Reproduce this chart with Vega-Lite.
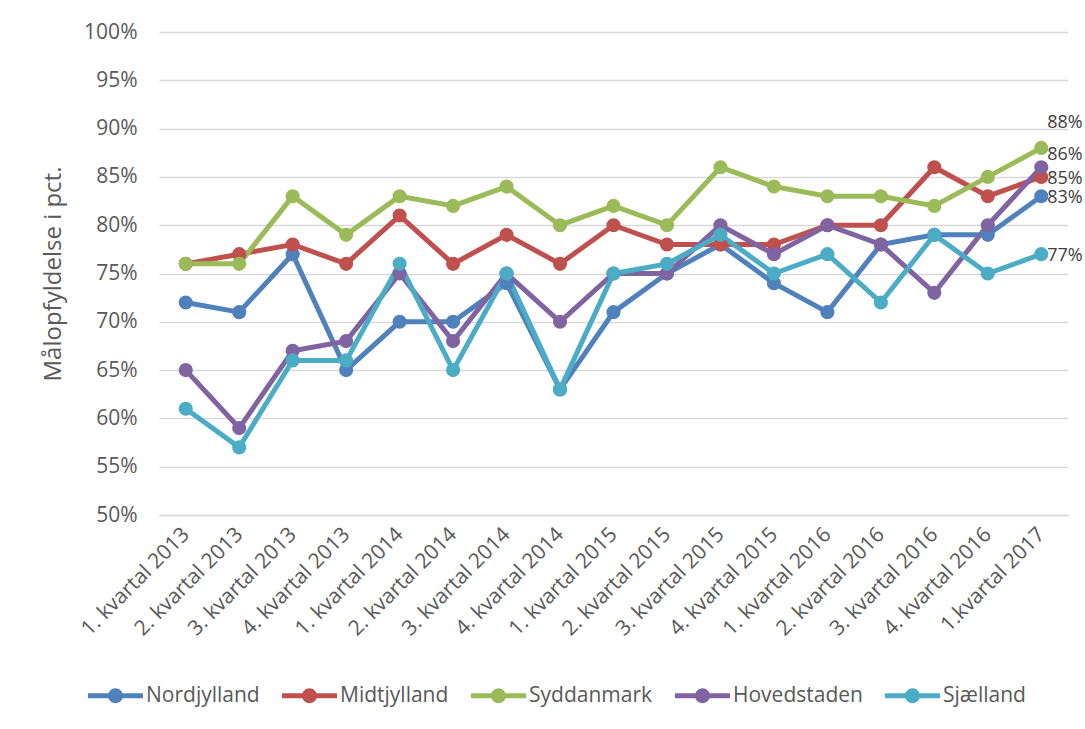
{
  "$schema": "https://vega.github.io/schema/vega-lite/v6.json",
  "autosize": "none",
  "width": 909,
  "height": 483,
  "padding": {"left": 159, "top": 32, "right": 17, "bottom": 214},
  "background": "white",
  "config": {
    "font": "Open Sans",
    "view": {"stroke": null}
  },
  "data": {
    "values": [
      {"kvartal": "1. kvartal 2013", "region": "Nordjylland", "pct": 0.72},
      {"kvartal": "2. kvartal 2013", "region": "Nordjylland", "pct": 0.71},
      {"kvartal": "3. kvartal 2013", "region": "Nordjylland", "pct": 0.77},
      {"kvartal": "4. kvartal 2013", "region": "Nordjylland", "pct": 0.65},
      {"kvartal": "1. kvartal 2014", "region": "Nordjylland", "pct": 0.70},
      {"kvartal": "2. kvartal 2014", "region": "Nordjylland", "pct": 0.70},
      {"kvartal": "3. kvartal 2014", "region": "Nordjylland", "pct": 0.74},
      {"kvartal": "4. kvartal 2014", "region": "Nordjylland", "pct": 0.63},
      {"kvartal": "1. kvartal 2015", "region": "Nordjylland", "pct": 0.71},
      {"kvartal": "2. kvartal 2015", "region": "Nordjylland", "pct": 0.75},
      {"kvartal": "3. kvartal 2015", "region": "Nordjylland", "pct": 0.78},
      {"kvartal": "4. kvartal 2015", "region": "Nordjylland", "pct": 0.74},
      {"kvartal": "1. kvartal 2016", "region": "Nordjylland", "pct": 0.71},
      {"kvartal": "2. kvartal 2016", "region": "Nordjylland", "pct": 0.78},
      {"kvartal": "3. kvartal 2016", "region": "Nordjylland", "pct": 0.79},
      {"kvartal": "4. kvartal 2016", "region": "Nordjylland", "pct": 0.79},
      {"kvartal": "1.kvartal 2017", "region": "Nordjylland", "pct": 0.83},
      {"kvartal": "1. kvartal 2013", "region": "Midtjylland", "pct": 0.76},
      {"kvartal": "2. kvartal 2013", "region": "Midtjylland", "pct": 0.77},
      {"kvartal": "3. kvartal 2013", "region": "Midtjylland", "pct": 0.78},
      {"kvartal": "4. kvartal 2013", "region": "Midtjylland", "pct": 0.76},
      {"kvartal": "1. kvartal 2014", "region": "Midtjylland", "pct": 0.81},
      {"kvartal": "2. kvartal 2014", "region": "Midtjylland", "pct": 0.76},
      {"kvartal": "3. kvartal 2014", "region": "Midtjylland", "pct": 0.79},
      {"kvartal": "4. kvartal 2014", "region": "Midtjylland", "pct": 0.76},
      {"kvartal": "1. kvartal 2015", "region": "Midtjylland", "pct": 0.80},
      {"kvartal": "2. kvartal 2015", "region": "Midtjylland", "pct": 0.78},
      {"kvartal": "3. kvartal 2015", "region": "Midtjylland", "pct": 0.78},
      {"kvartal": "4. kvartal 2015", "region": "Midtjylland", "pct": 0.78},
      {"kvartal": "1. kvartal 2016", "region": "Midtjylland", "pct": 0.80},
      {"kvartal": "2. kvartal 2016", "region": "Midtjylland", "pct": 0.80},
      {"kvartal": "3. kvartal 2016", "region": "Midtjylland", "pct": 0.86},
      {"kvartal": "4. kvartal 2016", "region": "Midtjylland", "pct": 0.83},
      {"kvartal": "1.kvartal 2017", "region": "Midtjylland", "pct": 0.85},
      {"kvartal": "1. kvartal 2013", "region": "Syddanmark", "pct": 0.76},
      {"kvartal": "2. kvartal 2013", "region": "Syddanmark", "pct": 0.76},
      {"kvartal": "3. kvartal 2013", "region": "Syddanmark", "pct": 0.83},
      {"kvartal": "4. kvartal 2013", "region": "Syddanmark", "pct": 0.79},
      {"kvartal": "1. kvartal 2014", "region": "Syddanmark", "pct": 0.83},
      {"kvartal": "2. kvartal 2014", "region": "Syddanmark", "pct": 0.82},
      {"kvartal": "3. kvartal 2014", "region": "Syddanmark", "pct": 0.84},
      {"kvartal": "4. kvartal 2014", "region": "Syddanmark", "pct": 0.80},
      {"kvartal": "1. kvartal 2015", "region": "Syddanmark", "pct": 0.82},
      {"kvartal": "2. kvartal 2015", "region": "Syddanmark", "pct": 0.80},
      {"kvartal": "3. kvartal 2015", "region": "Syddanmark", "pct": 0.86},
      {"kvartal": "4. kvartal 2015", "region": "Syddanmark", "pct": 0.84},
      {"kvartal": "1. kvartal 2016", "region": "Syddanmark", "pct": 0.83},
      {"kvartal": "2. kvartal 2016", "region": "Syddanmark", "pct": 0.83},
      {"kvartal": "3. kvartal 2016", "region": "Syddanmark", "pct": 0.82},
      {"kvartal": "4. kvartal 2016", "region": "Syddanmark", "pct": 0.85},
      {"kvartal": "1.kvartal 2017", "region": "Syddanmark", "pct": 0.88},
      {"kvartal": "1. kvartal 2013", "region": "Hovedstaden", "pct": 0.65},
      {"kvartal": "2. kvartal 2013", "region": "Hovedstaden", "pct": 0.59},
      {"kvartal": "3. kvartal 2013", "region": "Hovedstaden", "pct": 0.67},
      {"kvartal": "4. kvartal 2013", "region": "Hovedstaden", "pct": 0.68},
      {"kvartal": "1. kvartal 2014", "region": "Hovedstaden", "pct": 0.75},
      {"kvartal": "2. kvartal 2014", "region": "Hovedstaden", "pct": 0.68},
      {"kvartal": "3. kvartal 2014", "region": "Hovedstaden", "pct": 0.75},
      {"kvartal": "4. kvartal 2014", "region": "Hovedstaden", "pct": 0.70},
      {"kvartal": "1. kvartal 2015", "region": "Hovedstaden", "pct": 0.75},
      {"kvartal": "2. kvartal 2015", "region": "Hovedstaden", "pct": 0.75},
      {"kvartal": "3. kvartal 2015", "region": "Hovedstaden", "pct": 0.80},
      {"kvartal": "4. kvartal 2015", "region": "Hovedstaden", "pct": 0.77},
      {"kvartal": "1. kvartal 2016", "region": "Hovedstaden", "pct": 0.80},
      {"kvartal": "2. kvartal 2016", "region": "Hovedstaden", "pct": 0.78},
      {"kvartal": "3. kvartal 2016", "region": "Hovedstaden", "pct": 0.73},
      {"kvartal": "4. kvartal 2016", "region": "Hovedstaden", "pct": 0.80},
      {"kvartal": "1.kvartal 2017", "region": "Hovedstaden", "pct": 0.86},
      {"kvartal": "1. kvartal 2013", "region": "Sjælland", "pct": 0.61},
      {"kvartal": "2. kvartal 2013", "region": "Sjælland", "pct": 0.57},
      {"kvartal": "3. kvartal 2013", "region": "Sjælland", "pct": 0.66},
      {"kvartal": "4. kvartal 2013", "region": "Sjælland", "pct": 0.66},
      {"kvartal": "1. kvartal 2014", "region": "Sjælland", "pct": 0.76},
      {"kvartal": "2. kvartal 2014", "region": "Sjælland", "pct": 0.65},
      {"kvartal": "3. kvartal 2014", "region": "Sjælland", "pct": 0.75},
      {"kvartal": "4. kvartal 2014", "region": "Sjælland", "pct": 0.63},
      {"kvartal": "1. kvartal 2015", "region": "Sjælland", "pct": 0.75},
      {"kvartal": "2. kvartal 2015", "region": "Sjælland", "pct": 0.76},
      {"kvartal": "3. kvartal 2015", "region": "Sjælland", "pct": 0.79},
      {"kvartal": "4. kvartal 2015", "region": "Sjælland", "pct": 0.75},
      {"kvartal": "1. kvartal 2016", "region": "Sjælland", "pct": 0.77},
      {"kvartal": "2. kvartal 2016", "region": "Sjælland", "pct": 0.72},
      {"kvartal": "3. kvartal 2016", "region": "Sjælland", "pct": 0.79},
      {"kvartal": "4. kvartal 2016", "region": "Sjælland", "pct": 0.75},
      {"kvartal": "1.kvartal 2017", "region": "Sjælland", "pct": 0.77}
    ]
  },
  "encoding": {
    "x": {
      "field": "kvartal",
      "type": "nominal",
      "sort": null,
      "scale": {"type": "point", "padding": 0.5},
      "axis": {
        "title": null,
        "labelAngle": -45,
        "labelAlign": "right",
        "labelBaseline": "middle",
        "labelPadding": 16,
        "labelFont": "Open Sans",
        "labelFontSize": 21,
        "labelColor": "#595959",
        "ticks": false,
        "domain": true,
        "domainColor": "#D9D9D9",
        "domainWidth": 1.5,
        "grid": false
      }
    },
    "y": {
      "field": "pct",
      "type": "quantitative",
      "scale": {"domain": [0.5, 1.0], "nice": false, "zero": false},
      "axis": {
        "title": "Målopfyldelse i pct.",
        "titleFont": "Open Sans",
        "titleFontSize": 24,
        "titleFontWeight": "normal",
        "titleColor": "#595959",
        "titlePadding": 18,
        "format": ".0%",
        "values": [0.5, 0.55, 0.6, 0.65, 0.7, 0.75, 0.8, 0.85, 0.9, 0.95, 1.0],
        "labelFont": "Open Sans",
        "labelFontSize": 21,
        "labelColor": "#595959",
        "labelPadding": 22,
        "ticks": false,
        "domain": false,
        "grid": true,
        "gridColor": "#D9D9D9",
        "gridWidth": 1.5
      }
    },
    "color": {
      "field": "region",
      "type": "nominal",
      "sort": ["Nordjylland", "Midtjylland", "Syddanmark", "Hovedstaden", "Sjælland"],
      "scale": {
        "domain": ["Nordjylland", "Midtjylland", "Syddanmark", "Hovedstaden", "Sjælland"],
        "range": ["#4F81BD", "#C0504D", "#9BBB59", "#8064A2", "#4BACC6"]
      },
      "legend": {
        "title": null,
        "orient": "none",
        "direction": "horizontal",
        "legendX": -71,
        "legendY": 636,
        "padding": 0,
        "columnPadding": 22,
        "labelFont": "Open Sans",
        "labelFontSize": 21,
        "labelColor": "#595959",
        "labelOffset": 3,
        "symbolType": "M-1,-0.09L1,-0.09L1,0.09L-1,0.09Z M0.27,0 A0.27,0.27 0 1,1 -0.27,0 A0.27,0.27 0 1,1 0.27,0 Z",
        "symbolSize": 3025,
        "symbolStrokeWidth": 0
      }
    }
  },
  "layer": [
    {
      "mark": {"type": "line", "strokeWidth": 5}
    },
    {
      "mark": {"type": "point", "filled": true, "size": 200, "opacity": 1}
    },
    {
      "transform": [
        {"filter": "datum.kvartal === '1.kvartal 2017' && datum.region === 'Syddanmark'"}
      ],
      "mark": {"type": "text", "align": "left", "baseline": "middle", "dx": 6, "dy": -25, "fontSize": 18, "font": "Open Sans"},
      "encoding": {
        "text": {"field": "pct", "type": "quantitative", "format": ".0%"},
        "color": {"value": "#404040"}
      }
    },
    {
      "transform": [
        {"filter": "datum.kvartal === '1.kvartal 2017' && datum.region === 'Hovedstaden'"}
      ],
      "mark": {"type": "text", "align": "left", "baseline": "middle", "dx": 6, "dy": -12, "fontSize": 18, "font": "Open Sans"},
      "encoding": {
        "text": {"field": "pct", "type": "quantitative", "format": ".0%"},
        "color": {"value": "#404040"}
      }
    },
    {
      "transform": [
        {"filter": "datum.kvartal === '1.kvartal 2017' && datum.region !== 'Hovedstaden' && datum.region !== 'Syddanmark'"}
      ],
      "mark": {"type": "text", "align": "left", "baseline": "middle", "dx": 6, "dy": 2, "fontSize": 18, "font": "Open Sans"},
      "encoding": {
        "text": {"field": "pct", "type": "quantitative", "format": ".0%"},
        "color": {"value": "#404040"}
      }
    }
  ]
}
